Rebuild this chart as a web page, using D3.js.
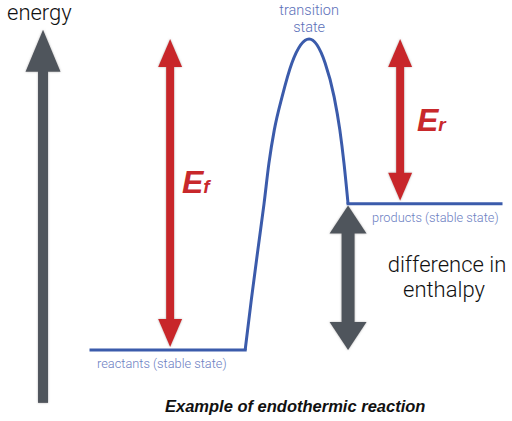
<!DOCTYPE html>
<html>
<head>
<meta charset="utf-8">
<script src="https://cdn.jsdelivr.net/npm/d3@7"></script>
<style>
  body { margin: 0; background: #fff; }
</style>
</head>
<body>
<script>
	// size of the picture
	var w = 512;
	var h = 421;

	// energy levels (reaction coordinate 0-100, energy 0-100)
	var levelNames = ["reactants (stable state)", "products (stable state)"];
	var levelEnergy = [0, 47];
	var levelStart = [0, 62.7];
	var levelEnd = [37.6, 100];

	// the hump between the two levels
	var humpX = [37.6, 39.1, 40.7, 42.2, 43.4, 44.7, 46.6, 49.0, 53.2, 57.1, 59.3, 60.7, 61.7, 62.7];
	var humpE = [0, 16.1, 32.2, 47.0, 60.1, 70.7, 81.4, 92.3, 100, 92.3, 81.4, 70.7, 60.1, 47];

	// arrows
	var arrowNames = ["energy", "Ef", "Er", "enthalpy"];
	var arrowX = [-11.7, 19.3, 75.4, 62.7];
	var arrowFrom = [-17, 1, 48, 0];
	var arrowTo = [103, 100, 100, 46.5];

	var svg = d3.select("body")
				.append("svg")
				.attr("width", w)
				.attr("height", h);

	var xScale = d3.scaleLinear().domain([0, 100]).range([91, 501]);
	var yScale = d3.scaleLinear().domain([0, 100]).range([350, 39]);

	// soft shadow for the arrows
	var defs = svg.append("defs");
	var f = defs.append("filter").attr("id", "shade")
		.attr("x", "-50%").attr("y", "-10%").attr("width", "200%").attr("height", "120%");
	f.append("feDropShadow").attr("dx", 0).attr("dy", 0)
		.attr("stdDeviation", 1).attr("flood-color", "#888").attr("flood-opacity", 0.6);

	// arrow styles
	var arrowStyle = {
		energy:   {color: "#50545c", shaft: 10, head: 35, len: 42, up: true,  down: false},
		Ef:       {color: "#c8282b", shaft: 8,  head: 24, len: 28, up: true,  down: true},
		Er:       {color: "#c8282b", shaft: 8,  head: 24, len: 28, up: true,  down: true},
		enthalpy: {color: "#50545c", shaft: 13, head: 37, len: 28, up: true,  down: true}
	};

	arrowNames.forEach(function(name, i) {
		var s = arrowStyle[name];
		var cx = xScale(arrowX[i]);
		var yb = yScale(arrowFrom[i]);
		var yt = yScale(arrowTo[i]);
		var g = svg.append("g").attr("filter", "url(#shade)").attr("fill", s.color);
		var top = s.up ? yt + s.len - 1 : yt;
		var bot = s.down ? yb - s.len + 1 : yb;
		g.append("rect")
			.attr("x", cx - s.shaft / 2)
			.attr("y", top)
			.attr("width", s.shaft)
			.attr("height", bot - top);
		if (s.up) {
			g.append("path").attr("d",
				"M" + cx + "," + yt + "L" + (cx + s.head / 2) + "," + (yt + s.len) +
				"L" + (cx - s.head / 2) + "," + (yt + s.len) + "Z");
		}
		if (s.down) {
			g.append("path").attr("d",
				"M" + cx + "," + yb + "L" + (cx + s.head / 2) + "," + (yb - s.len) +
				"L" + (cx - s.head / 2) + "," + (yb - s.len) + "Z");
		}
	});

	// blue reaction line
	var blue = "#3b5bab";
	var flat = d3.line()
		.x(function(d) { return xScale(d[0]); })
		.y(function(d) { return yScale(d[1]); });
	var curve = d3.line()
		.x(function(d) { return xScale(d[0]); })
		.y(function(d) { return yScale(d[1]); })
		.curve(d3.curveMonotoneX);

	levelNames.forEach(function(name, i) {
		svg.append("path")
			.attr("d", flat([[levelStart[i], levelEnergy[i]], [levelEnd[i], levelEnergy[i]]]))
			.attr("fill", "none")
			.attr("stroke", blue)
			.attr("stroke-width", 3)
			.attr("stroke-linecap", "square");
	});
	svg.append("path")
		.attr("d", curve(humpX.map(function(d, i) { return [d, humpE[i]]; })))
		.attr("fill", "none")
		.attr("stroke", blue)
		.attr("stroke-width", 3)
		.attr("stroke-linejoin", "round");

	// level labels
	var labelColor = "#6c80c2";
	svg.selectAll(".lvl")
		.data(levelNames)
		.enter()
		.append("text")
		.attr("class", "lvl")
		.text(function(d) { return d; })
		.attr("x", function(d, i) { return xScale(levelStart[i]) + (i === 0 ? 6 : 24); })
		.attr("y", function(d, i) { return yScale(levelEnergy[i]) + 18; })
		.attr("font-family", "Roboto, 'Liberation Sans', sans-serif")
		.attr("font-weight", 300)
		.attr("font-size", "12.8px")
		.attr("fill", labelColor);

	// transition state
	var ts = svg.append("text")
		.attr("text-anchor", "middle")
		.attr("font-family", "Roboto, 'Liberation Sans', sans-serif")
		.attr("font-weight", 300)
		.attr("font-size", "14.5px")
		.attr("fill", "#5b70b9");
	ts.append("tspan").attr("x", xScale(humpX[8])).attr("y", 15).text("transition");
	ts.append("tspan").attr("x", xScale(humpX[8])).attr("y", 32).text("state");

	// energy axis label
	svg.append("text")
		.text("energy")
		.attr("x", 7)
		.attr("y", 20)
		.attr("font-family", "Roboto, 'Liberation Sans', sans-serif")
		.attr("font-weight", 300)
		.attr("font-size", "22px")
		.attr("fill", "#111");

	// enthalpy label
	var dh = svg.append("text")
		.attr("text-anchor", "middle")
		.attr("font-family", "Roboto, 'Liberation Sans', sans-serif")
		.attr("font-weight", 300)
		.attr("font-size", "22px")
		.attr("fill", "#111");
	dh.append("tspan").attr("x", 447).attr("y", 272).text("difference in");
	dh.append("tspan").attr("x", 444).attr("y", 297).text("enthalpy");

	// E labels
	function eLabel(x, y, sub) {
		var t = svg.append("text")
			.attr("x", x)
			.attr("y", y)
			.attr("font-family", "'Liberation Sans', Arial, sans-serif")
			.attr("font-weight", "bold")
			.attr("font-style", "italic")
			.attr("font-size", "32px")
			.attr("fill", "#c8282b");
		t.append("tspan").text("E");
		t.append("tspan").attr("font-size", "19px").text(sub);
	}
	eLabel(182, 193, "f");
	eLabel(417, 131, "r");

	// caption
	svg.append("text")
		.text("Example of endothermic reaction")
		.attr("x", 165)
		.attr("y", 412)
		.attr("font-family", "'Liberation Sans', Arial, sans-serif")
		.attr("font-weight", "bold")
		.attr("font-style", "italic")
		.attr("font-size", "16.5px")
		.attr("fill", "#111");
</script>
</body>
</html>
